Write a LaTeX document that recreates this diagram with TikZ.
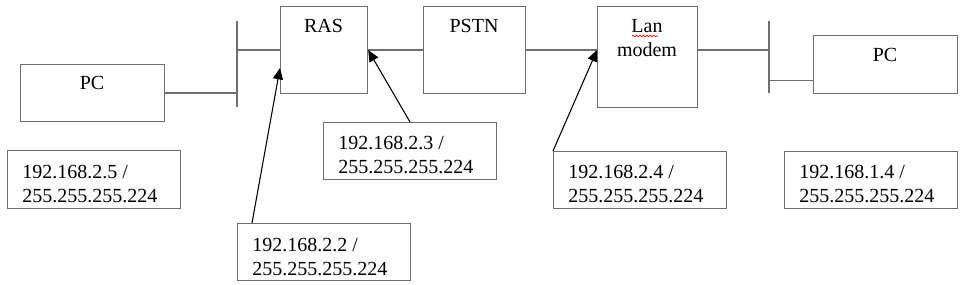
\documentclass[tikz,border=0pt]{standalone}
\usepackage{fontspec}
\setmainfont{Liberation Serif}
\usetikzlibrary{arrows.meta,decorations.pathmorphing,calc}
\definecolor{boxgray}{HTML}{6E6E6E}
\begin{document}
\begin{tikzpicture}[x=0.75pt,y=-0.75pt,
  box/.style={draw=boxgray, line width=0.9pt, inner sep=0pt, anchor=north west},
  wire/.style={draw=boxgray, line width=0.9pt},
  arr/.style={draw=black, line width=0.8pt, -{Triangle[length=8.5pt,width=7.5pt]}},
  title/.style={font=\fontsize{15}{18}\selectfont, text=black, inner sep=0pt, anchor=base, align=center},
  addr/.style={font=\fontsize{15}{18}\selectfont, text=black, inner sep=0pt, anchor=base west, align=left}]
\useasboundingbox (0,0) rectangle (965,285);

% main boxes
\node[box, minimum width=144*0.75pt, minimum height=57*0.75pt] (pcL) at (20,64) {};
\node[box, minimum width=87*0.75pt, minimum height=87*0.75pt] (ras) at (280,6) {};
\node[box, minimum width=102*0.75pt, minimum height=87*0.75pt] (pstn) at (423,6) {};
\node[box, minimum width=100*0.75pt, minimum height=101*0.75pt] (lan) at (597,6) {};
\node[box, minimum width=144*0.75pt, minimum height=58*0.75pt] (pcR) at (813,35) {};

% titles
\node[title] (pcLt) at (92,90) {PC};
\node[title] (pcRt) at (885,62) {PC};
\node[title] (rast) at (323.5,33) {RAS};
\node[title] (pstnt) at (474,33) {PSTN};
\node[title] (lant) at (647,57) {Lan\\modem};
\draw[red, line width=0.5pt, decorate, decoration={snake, amplitude=0.6pt, segment length=2.6pt}] (632,36) -- (658,36);

% address boxes
\node[box, minimum width=173*0.75pt, minimum height=58*0.75pt] (b5) at (7,150) {};
\node[box, minimum width=173*0.75pt, minimum height=57*0.75pt] (b2) at (237,223) {};
\node[box, minimum width=173*0.75pt, minimum height=57*0.75pt] (b3) at (323,122) {};
\node[box, minimum width=173*0.75pt, minimum height=57*0.75pt] (b4) at (553,151) {};
\node[box, minimum width=173*0.75pt, minimum height=57*0.75pt] (b14) at (784,151) {};

\node[addr] (t5) at (22,202) {192.168.2.5 /\\255.255.255.224};
\node[addr] (t2) at (252,275) {192.168.2.2 /\\255.255.255.224};
\node[addr] (t3) at (338,174) {192.168.2.3 /\\255.255.255.224};
\node[addr] (t4) at (568,203) {192.168.2.4 /\\255.255.255.224};
\node[addr] (t14) at (799,203) {192.168.1.4 /\\255.255.255.224};

% buses
\coordinate (bus1t) at (237,21);
\coordinate (bus1b) at (237,107);
\coordinate (bus2t) at (769,21);
\coordinate (bus2b) at (769,93);
\draw[wire] (bus1t) -- (bus1b);
\draw[wire] (bus2t) -- (bus2b);

% wires
\draw[wire] (pcL.east) -- (pcL.east -| bus1t);
\draw[wire] (bus1t |- ras.west) -- (ras.west);
\draw[wire] (ras.east) -- (pstn.west);
\draw[wire] (pstn.east) -- (pstn.east -| lan.west);
\draw[wire] (pstn.east -| lan.east) -- (pstn.east -| bus2t);
\coordinate (pcRin) at ($(pcR.south west)+(0,-14)$);
\draw[wire] (pcRin -| bus2t) -- (pcRin);

% arrows
\draw[arr] ($(b2.north west)+(15,0)$) -- ($(ras.north west)+(0,62)$);
\draw[arr] ($(b3.north west)+(87,0)$) -- (ras.east);
\draw[arr] (b4.north west) -- (ras.east -| lan.west);
\end{tikzpicture}
\end{document}
